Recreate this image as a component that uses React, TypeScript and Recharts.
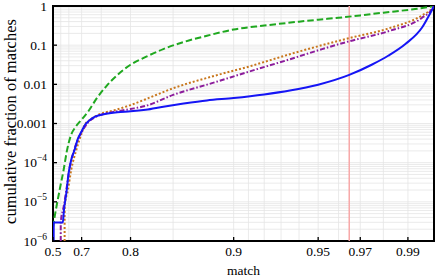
import React from "react";
import {
  LineChart,
  Line,
  XAxis,
  YAxis,
  CartesianGrid,
  ReferenceLine,
  ReferenceArea,
  Label,
} from "recharts";

// match axis is stretched: plotted position goes like match^7
const POW = 7;

// cumulative fraction, stored as log10 values
const greenMatch = [0.5, 0.53, 0.56, 0.58, 0.6, 0.62, 0.64, 0.66, 0.68, 0.7, 0.72, 0.74, 0.76, 0.78, 0.8, 0.82, 0.84, 0.86, 0.88, 0.9, 0.92, 0.94, 0.95, 0.96, 0.97, 0.98, 0.99, 0.995, 1];
const greenLog = [-5.65, -5.4, -5.1, -4.85, -4.55, -4.2, -3.7, -3.3, -3.08, -2.9, -2.68, -2.36, -2.05, -1.76, -1.5, -1.3, -1.1, -0.92, -0.76, -0.6, -0.5, -0.4, -0.35, -0.3, -0.24, -0.17, -0.1, -0.06, 0];

const orangeMatch = [0.6269, 0.627, 0.6455, 0.661, 0.6815, 0.7, 0.709, 0.725, 0.743, 0.775, 0.8, 0.82, 0.85, 0.884, 0.91, 0.935, 0.952, 0.965, 0.9823, 0.9955, 0.9993, 1];
const orangeLog = [-6, -5.12, -4.7, -4.19, -3.68, -3.25, -3.04, -2.9, -2.78, -2.66, -2.53, -2.38, -2.1, -1.8, -1.55, -1.23, -1.0, -0.82, -0.57, -0.24, -0.06, 0];

const purpleMatch = [0.5999, 0.6, 0.623, 0.64, 0.655, 0.67, 0.685, 0.7, 0.72, 0.74, 0.76, 0.775, 0.8, 0.82, 0.85, 0.884, 0.91, 0.935, 0.952, 0.965, 0.9823, 0.9955, 0.9993, 1];
const purpleLog = [-6, -5.53, -5.08, -4.6, -4.1, -3.75, -3.45, -3.22, -2.96, -2.82, -2.74, -2.7, -2.63, -2.55, -2.27, -1.97, -1.68, -1.36, -1.1, -0.9, -0.64, -0.3, -0.08, 0];

const blueMatch = [0.5149, 0.515, 0.615, 0.623, 0.637, 0.649, 0.661, 0.675, 0.688, 0.7, 0.71, 0.72, 0.735, 0.76, 0.78, 0.8, 0.82, 0.84, 0.86, 0.88, 0.9, 0.92, 0.935, 0.95, 0.965, 0.975, 0.982, 0.989, 0.9955, 0.9987, 1];
const blueLog = [-6, -5.53, -5.53, -5.2, -4.78, -4.27, -3.93, -3.68, -3.38, -3.2, -3.04, -2.94, -2.83, -2.75, -2.71, -2.69, -2.65, -2.57, -2.49, -2.41, -2.35, -2.26, -2.16, -2.01, -1.76, -1.5, -1.27, -0.97, -0.55, -0.17, 0];

const xMajor = [0.5, 0.7, 0.8, 0.9, 0.95, 0.97, 0.99];
const xMajorLabels = ["0.5", "0.7", "0.8", "0.9", "0.95", "0.97", "0.99"];
const xMinor = [0.6, 0.65, 0.75, 0.85, 0.91, 0.92, 0.93, 0.94, 0.96, 0.98];
const yDecadeLabels = ["1", "0.1", "0.01", "0.001", "10^−4", "10^−5", "10^−6"];
const cutoff = 0.965;

const FONT = "'Liberation Serif', 'Times New Roman', serif";

const fwd = (m: number) => Math.pow(m, POW);
const toSeries = (m: number[], l: number[]) =>
  m.map((v, i) => ({ x: fwd(v), y: Math.pow(10, l[i]) }));

const xTicks = [...xMajor, ...xMinor].sort((a, b) => a - b).map(fwd);
const yTicks: number[] = [];
for (let e = -6; e < 0; e++) {
  for (let k = 1; k < 10; k++) yTicks.push(k * Math.pow(10, e));
}
yTicks.push(1);

const XTick = (props: any) => {
  const { x, y, payload } = props;
  const i = xMajor.findIndex((m) => Math.abs(fwd(m) - payload.value) < 1e-9);
  if (i < 0) return <g />;
  return (
    <g>
      <line x1={x} x2={x} y1={y} y2={y - 4} stroke="#000" strokeWidth={1.3} />
      <text x={x} y={y + 14.5} textAnchor="middle" fontSize={13.5} fontFamily={FONT} fill="#000">
        {xMajorLabels[i]}
      </text>
    </g>
  );
};

const YTick = (props: any) => {
  const { x, y, payload } = props;
  const lg = Math.log10(payload.value);
  const e = Math.round(lg);
  if (Math.abs(lg - e) > 1e-6) return <g />;
  const label = yDecadeLabels[-e];
  const [base, sup] = label.split("^");
  return (
    <g>
      <line x1={x} x2={x + 4} y1={y} y2={y} stroke="#000" strokeWidth={1.3} />
      <text x={x - 6} y={y + 4.5} textAnchor="end" fontSize={13.5} fontFamily={FONT} fill="#000">
        {base}
        {sup && (
          <tspan dy={-6} fontSize={9.5}>
            {sup}
          </tspan>
        )}
      </text>
    </g>
  );
};

export default function App() {
  return (
    <div style={{ position: "absolute", left: 0, top: 0, width: 436, height: 279, background: "#fff" }}>
      <LineChart width={436} height={279} margin={{ top: 6, right: 2, bottom: 0, left: 0 }}>
        <CartesianGrid stroke="#e4e4e4" strokeWidth={0.8} />
        <XAxis
          dataKey="x"
          type="number"
          domain={[fwd(0.5), 1]}
          allowDataOverflow
          ticks={xTicks}
          interval={0}
          tick={XTick}
          tickLine={false}
          tickSize={0}
          tickMargin={0}
          axisLine={false}
          height={38}
        >
          <Label
            content={({ viewBox }: any) => (
              <text
                x={viewBox.x + viewBox.width / 2}
                y={viewBox.y + 34}
                textAnchor="middle"
                fontSize={13.5}
                fontFamily={FONT}
                fill="#000"
              >
                match
              </text>
            )}
          />
        </XAxis>
        <YAxis
          type="number"
          scale="log"
          domain={[1e-6, 1]}
          allowDataOverflow
          ticks={yTicks}
          interval={0}
          tick={YTick}
          tickLine={false}
          tickSize={0}
          tickMargin={0}
          axisLine={false}
          width={53}
        >
          <Label
            content={({ viewBox }: any) => {
              const cx = 10;
              const cy = viewBox.y + viewBox.height / 2 - 2;
              return (
                <text
                  x={cx}
                  y={cy}
                  transform={`rotate(-90 ${cx} ${cy})`}
                  textAnchor="middle"
                  dominantBaseline="central"
                  fontSize={16.5}
                  fontFamily={FONT}
                  fill="#000"
                >
                  cumulative fraction of matches
                </text>
              );
            }}
          />
        </YAxis>
        <ReferenceLine x={fwd(cutoff)} stroke="#f7a8a8" strokeWidth={1.5} />
        <Line
          data={toSeries(greenMatch, greenLog)}
          dataKey="y"
          type="monotone"
          stroke="#1fa81f"
          strokeWidth={2}
          strokeDasharray="6.5 3"
          dot={false}
          isAnimationActive={false}
        />
        <Line
          data={toSeries(orangeMatch, orangeLog)}
          dataKey="y"
          type="monotone"
          stroke="#c8761c"
          strokeWidth={2}
          strokeDasharray="2 2"
          dot={false}
          isAnimationActive={false}
        />
        <Line
          data={toSeries(purpleMatch, purpleLog)}
          dataKey="y"
          type="monotone"
          stroke="#8c1c9c"
          strokeWidth={2}
          strokeDasharray="5 2 1.5 2"
          dot={false}
          isAnimationActive={false}
        />
        <Line
          data={toSeries(blueMatch, blueLog)}
          dataKey="y"
          type="monotone"
          stroke="#1515f5"
          strokeWidth={2}
          dot={false}
          isAnimationActive={false}
        />
        <ReferenceArea
          x1={fwd(0.5)}
          x2={1}
          y1={1e-6}
          y2={1}
          fill="none"
          stroke="#000"
          strokeWidth={2}
          ifOverflow="visible"
        />
      </LineChart>
    </div>
  );
}
